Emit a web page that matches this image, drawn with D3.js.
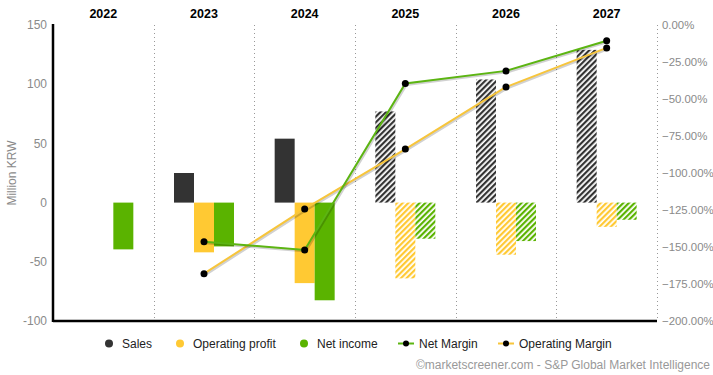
<!DOCTYPE html>
<html>
<head>
<meta charset="utf-8">
<script src="https://cdn.jsdelivr.net/npm/d3@7"></script>
<style>
  body { margin: 0; background: #fff; }
  svg { display: block; font-family: "Liberation Sans", Arial, sans-serif; }
</style>
</head>
<body>
<div id="chart"></div>
<script>
const years = ['2022', '2023', '2024', '2025', '2026', '2027'];
const forecastYears = ['2025', '2026', '2027'];

const sales = [null, 25, 54, 77, 104, 129];
const operatingProfit = [null, -42, -68, -64, -44, -20.5];
const netIncome = [-39.5, -37, -82.5, -30.5, -32.5, -14.5];

const netMargin = [null, -146.5, -152, -39.5, -31, -10.6];
const operatingMargin = [null, -168, -124.3, -83.8, -41.9, -15.5];

const leftTicks = [150, 100, 50, 0, -50, -100];
const rightTicks = [0, -25, -50, -75, -100, -125, -150, -175, -200];

const colors = {
  sales: '#333333',
  op: '#FFC933',
  net: '#5AB300',
  netLine: '#5CB512',
  opLine: '#F7C53B',
  tick: '#8a8a8a',
};

const width = 713, height = 375;
const margin = {top: 25, right: 56, bottom: 54, left: 53};
const plotW = width - margin.left - margin.right;
const plotH = height - margin.top - margin.bottom;

const svg = d3.select('#chart').append('svg')
  .attr('width', width)
  .attr('height', height);

// hatch patterns for forecast years
const defs = svg.append('defs');
[['sales', colors.sales], ['op', colors.op], ['net', colors.net]].forEach(([k, c]) => {
  const p = defs.append('pattern')
    .attr('id', 'hatch-' + k)
    .attr('patternUnits', 'userSpaceOnUse')
    .attr('width', 4).attr('height', 4)
    .attr('patternTransform', 'rotate(45)');
  p.append('rect').attr('width', 4).attr('height', 4).attr('fill', '#fff');
  p.append('rect').attr('width', 2.2).attr('height', 4).attr('fill', c);
});

const g = svg.append('g').attr('transform', `translate(${margin.left},${margin.top})`);

const x = d3.scaleBand().domain(years).range([0, plotW]);
const yL = d3.scaleLinear().domain([-100, 150]).range([plotH, 0]);
const yR = d3.scaleLinear().domain([-200, 0]).range([plotH, 0]);

const barW = 20;

// ------------------------------------------------------------------------
// GRID (dotted separators between years)
// ------------------------------------------------------------------------
g.append('g').selectAll('line')
  .data(years.slice(1).concat(['end']))
  .enter().append('line')
    .attr('x1', (d, i) => Math.round(x.step() * (i + 1)) + 0.5)
    .attr('x2', (d, i) => Math.round(x.step() * (i + 1)) + 0.5)
    .attr('y1', 0).attr('y2', plotH)
    .attr('stroke', '#999')
    .attr('stroke-width', 1)
    .attr('stroke-dasharray', '1,3');

// ------------------------------------------------------------------------
// BARS
// ------------------------------------------------------------------------
const barSeries = [
  {key: 'sales', values: sales, offset: -30, color: colors.sales},
  {key: 'op', values: operatingProfit, offset: -10, color: colors.op},
  {key: 'net', values: netIncome, offset: 10, color: colors.net},
];

barSeries.forEach(s => {
  g.append('g').selectAll('rect')
    .data(years.map((yr, i) => ({yr, v: s.values[i]})).filter(d => d.v !== null))
    .enter().append('rect')
      .attr('x', d => x(d.yr) + x.bandwidth() / 2 + s.offset)
      .attr('y', d => yL(Math.max(0, d.v)))
      .attr('width', barW)
      .attr('height', d => Math.abs(yL(d.v) - yL(0)))
      .attr('fill', d => forecastYears.includes(d.yr) ? `url(#hatch-${s.key})` : s.color);
});

// ------------------------------------------------------------------------
// MARGIN LINES
// ------------------------------------------------------------------------
const line = d3.line()
  .defined(d => d.v !== null)
  .x(d => x(d.yr) + x.bandwidth() / 2)
  .y(d => yR(d.v));

[[operatingMargin, colors.opLine], [netMargin, colors.netLine]].forEach(([vals, c]) => {
  const pts = years.map((yr, i) => ({yr, v: vals[i]}));
  g.append('path').datum(pts)
    .attr('d', line)
    .attr('fill', 'none')
    .attr('stroke', 'rgba(0,0,0,0.18)')
    .attr('stroke-width', 3)
    .attr('transform', 'translate(1,1)');
  g.append('path').datum(pts)
    .attr('d', line)
    .attr('fill', 'none')
    .attr('stroke', c)
    .attr('stroke-width', 2);
  g.append('g').selectAll('circle')
    .data(pts.filter(d => d.v !== null))
    .enter().append('circle')
      .attr('cx', d => x(d.yr) + x.bandwidth() / 2)
      .attr('cy', d => yR(d.v))
      .attr('r', 3.5)
      .attr('fill', '#000');
});

// ------------------------------------------------------------------------
// AXES
// ------------------------------------------------------------------------
g.append('line')
  .attr('x1', 0).attr('x2', 0).attr('y1', -1).attr('y2', plotH + 1)
  .attr('stroke', '#000').attr('stroke-width', 2.5);
g.append('line')
  .attr('x1', 0).attr('x2', plotW).attr('y1', plotH).attr('y2', plotH)
  .attr('stroke', '#000').attr('stroke-width', 2.5);

g.append('g').selectAll('text')
  .data(leftTicks)
  .enter().append('text')
    .attr('x', -6)
    .attr('y', d => yL(d))
    .attr('dy', '0.35em')
    .attr('text-anchor', 'end')
    .attr('font-size', 12)
    .attr('fill', colors.tick)
    .text(d => d);

g.append('g').selectAll('text')
  .data(rightTicks)
  .enter().append('text')
    .attr('x', plotW + 5)
    .attr('y', d => yR(d))
    .attr('dy', '0.35em')
    .attr('font-size', 11.4)
    .attr('fill', colors.tick)
    .text(d => d3.format('.2f')(d) + '%');

g.append('g').selectAll('text')
  .data(years)
  .enter().append('text')
    .attr('x', d => x(d) + x.bandwidth() / 2)
    .attr('y', -7)
    .attr('text-anchor', 'middle')
    .attr('font-size', 12.5)
    .attr('font-weight', 'bold')
    .attr('fill', '#000')
    .text(d => d);

svg.append('text')
  .attr('transform', `translate(16,${margin.top + yL(25)}) rotate(-90)`)
  .attr('text-anchor', 'middle')
  .attr('font-size', 12)
  .attr('fill', colors.tick)
  .text('Million KRW');

// ------------------------------------------------------------------------
// LEGEND
// ------------------------------------------------------------------------
const legendItems = [
  {label: 'Sales', type: 'dot', color: colors.sales, x: 109},
  {label: 'Operating profit', type: 'dot', color: colors.op, x: 180},
  {label: 'Net income', type: 'dot', color: colors.net, x: 304},
  {label: 'Net Margin', type: 'line', color: colors.netLine, x: 398},
  {label: 'Operating Margin', type: 'line', color: colors.opLine, x: 498},
];
const legend = svg.append('g').attr('transform', 'translate(0,343.5)');
legendItems.forEach(d => {
  const it = legend.append('g').attr('transform', `translate(${d.x},0)`);
  if (d.type === 'dot') {
    it.append('circle').attr('r', 4).attr('fill', d.color);
    it.append('text').attr('x', 13).attr('dy', '0.35em').attr('font-size', 12).attr('fill', '#222').text(d.label);
  } else {
    it.append('line').attr('x1', 0).attr('x2', 16).attr('stroke', d.color).attr('stroke-width', 2);
    it.append('circle').attr('cx', 8).attr('r', 3).attr('fill', '#000');
    it.append('text').attr('x', 21).attr('dy', '0.35em').attr('font-size', 12).attr('fill', '#222').text(d.label);
  }
});

svg.append('text')
  .attr('x', 710).attr('y', 369)
  .attr('text-anchor', 'end')
  .attr('font-size', 12)
  .attr('fill', '#999')
  .text('©marketscreener.com - S&P Global Market Intelligence');
</script>
</body>
</html>
